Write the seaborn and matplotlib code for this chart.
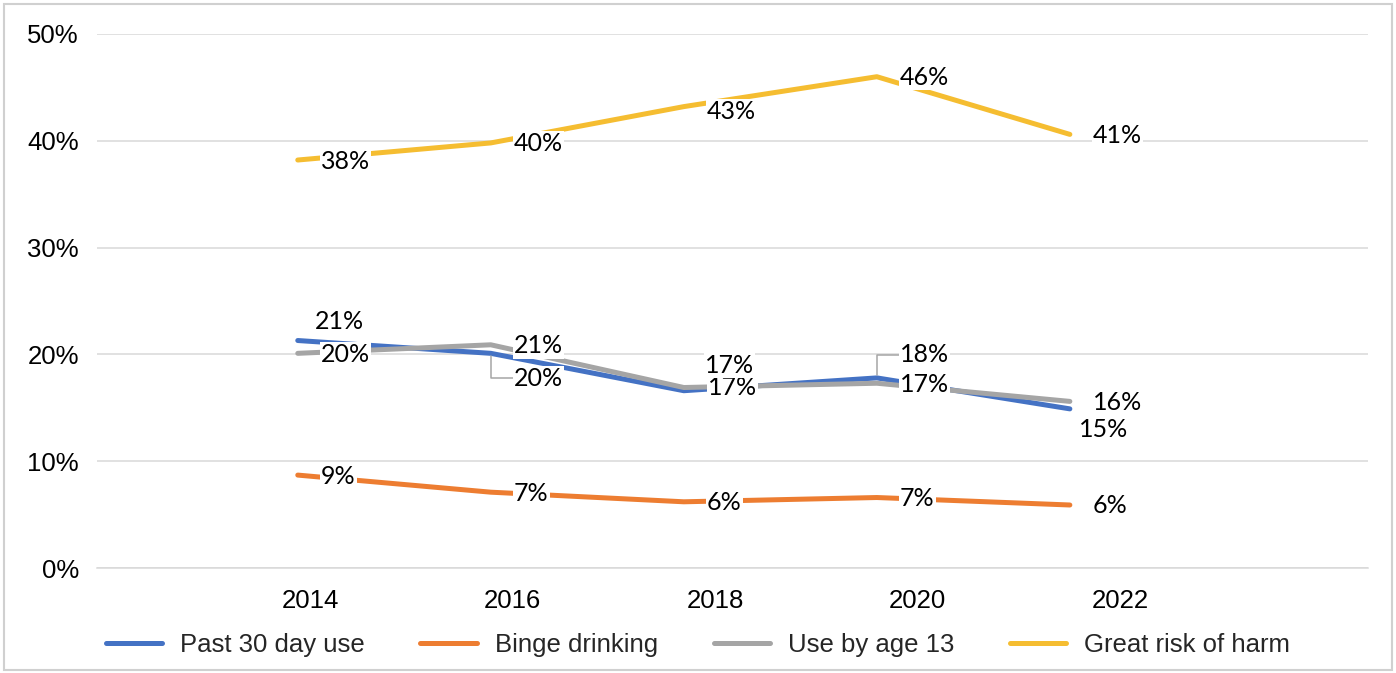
import numpy as np
import pandas as pd
import matplotlib.pyplot as plt
import seaborn as sns
from matplotlib.patches import Rectangle
from matplotlib.ticker import FuncFormatter


years = [2014, 2016, 2018, 2020, 2022]
year_labels = ["2014", "2016", "2018", "2020", "2022"]
series_names = ["Past 30 day use", "Binge drinking", "Use by age 13", "Great risk of harm"]

past_30_day = [21.3, 20.1, 16.6, 17.8, 14.9]
binge_drinking = [8.7, 7.1, 6.2, 6.6, 5.9]
use_by_13 = [20.1, 20.9, 16.9, 17.3, 15.6]
great_risk = [38.2, 39.8, 43.2, 46.0, 40.6]

colors = ["#4472C4", "#ED7D31", "#A5A5A5", "#F5BD31"]

df = pd.DataFrame({
    "year": years * len(series_names),
    "series": np.repeat(series_names, len(years)),
    "value": past_30_day + binge_drinking + use_by_13 + great_risk,
})

# label nudges in pixels (dx, dy up); default sits right of the point
PX = 0.72
label_nudge = {
    ("Past 30 day use", 0): (17, 19),
    ("Past 30 day use", 1): (23, -25),
    ("Past 30 day use", 2): (24, 3),
    ("Past 30 day use", 3): (23, 23),
    ("Past 30 day use", 4): (9, -21),
    ("Use by age 13", 2): (21, 22),
    ("Great risk of harm", 2): (23, -5),
}
leader_lines = {("Past 30 day use", 1), ("Past 30 day use", 3)}

sns.set_theme(style="white")
plt.rcParams["font.family"] = ["Liberation Sans", "DejaVu Sans"]

fig = plt.figure(figsize=(13.96, 6.73), dpi=100)
ax = fig.add_axes([0.0695, 0.156, 0.9105, 0.7935])

sns.lineplot(
    data=df, x="year", y="value", hue="series", hue_order=series_names,
    palette=colors, linewidth=3.6, solid_capstyle="round", legend=False, ax=ax,
)

for name in series_names:
    sub = df[df["series"] == name].reset_index(drop=True)
    for i, row in sub.iterrows():
        dx, dy = label_nudge.get((name, i), (23, -1))
        arrow = None
        if (name, i) in leader_lines:
            arrow = dict(arrowstyle="-", color="#A6A6A6", lw=1.1,
                         connectionstyle="angle,angleA=0,angleB=90,rad=0",
                         relpos=(0, 0.5), shrinkA=0, shrinkB=2)
        ax.annotate(
            f"{round(row['value'])}%", (row["year"], row["value"]),
            xytext=(dx * PX, dy * PX), textcoords="offset points",
            ha="left", va="center", fontsize=18, family=["Lato", "DejaVu Sans"],
            color="black", zorder=10,
            bbox=dict(boxstyle="square,pad=0.05", fc="white", ec="none"),
            arrowprops=arrow,
        )

tick_pos = np.linspace(2014.13, 2022.52, 5)
ax.set_xlim(2011.92, 2025.09)
ax.set_xticks(tick_pos)
ax.set_xticklabels(year_labels)
ax.set_ylim(0, 50)
ax.set_yticks(range(0, 51, 10))
ax.yaxis.set_major_formatter(FuncFormatter(lambda v, _: f"{v:.0f}%"))
ax.set_xlabel("")
ax.set_ylabel("")
ax.tick_params(axis="both", length=0, labelsize=18.5, colors="black")
ax.tick_params(axis="y", pad=13)
ax.tick_params(axis="x", pad=15)

ax.yaxis.grid(True, color="#D9D9D9", lw=1.1)
ax.set_axisbelow(True)
for side in ["top", "right", "left"]:
    ax.spines[side].set_visible(False)
ax.spines["bottom"].set_color("#D9D9D9")
ax.spines["bottom"].set_linewidth(1.1)

fig.legend(
    handles=ax.get_lines()[:4], labels=series_names, loc="center",
    bbox_to_anchor=(0.5, 0.042), ncol=4, frameon=False, fontsize=18.5,
    handlelength=2.2, handletextpad=0.7, columnspacing=2.16,
)

fig.patches.append(Rectangle((0.003, 0.004), 0.994, 0.990, transform=fig.transFigure,
                             fill=False, ec="#D0D0D0", lw=1.5))

fig.savefig("out.png", dpi=100)
